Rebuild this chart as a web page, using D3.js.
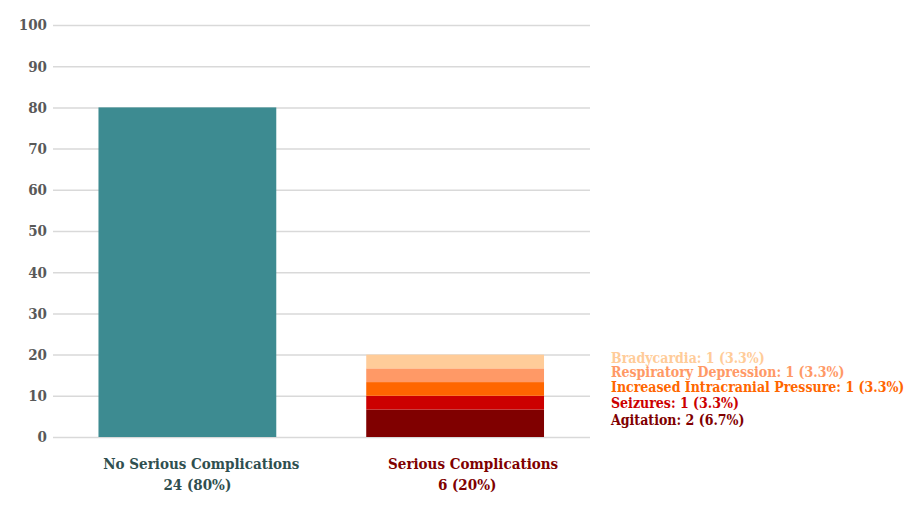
<!DOCTYPE html>
<html><head><meta charset="utf-8">
<script src="https://cdn.jsdelivr.net/npm/d3@7"></script>
<style>body{margin:0;background:#fff;} svg{display:block;}</style>
</head><body>
<svg id="chart" width="920" height="518"></svg>
<script>
const categories = ["No Serious Complications", "Serious Complications"];
const categorySubLabels = ["24 (80%)", "6 (20%)"];
const noComplicationValue = 80;
const complicationTypes = ["Agitation", "Seizures", "Increased Intracranial Pressure", "Respiratory Depression", "Bradycardia"];
const complicationCounts = [2, 1, 1, 1, 1];
const complicationPercents = [6.67, 3.33, 3.33, 3.33, 3.33];
const complicationPctLabels = ["6.7%", "3.3%", "3.3%", "3.3%", "3.3%"];
const yTicks = [0, 10, 20, 30, 40, 50, 60, 70, 80, 90, 100];

const complicationColors = ["#800000", "#CC0000", "#FF6600", "#FF9966", "#FFCC99"];
const font = "'DejaVu Serif Condensed', 'DejaVu Serif', serif";

const svg = d3.select("#chart");
const margin = {left: 53, right: 330, top: 25, bottom: 81};
const W = 920, H = 518;
const x = d3.scaleBand().domain(categories).range([margin.left + 0.5, W - margin.right - 1]).paddingInner(0.336).paddingOuter(0.168);
const y = d3.scaleLinear().domain([0, 100]).range([H - margin.bottom, margin.top]);

// grid
const yAxis = d3.axisLeft(y).tickValues(yTicks).tickSize(-(W - margin.right - margin.left)).tickPadding(8);
const ga = svg.append("g").attr("transform", `translate(${margin.left},0)`).call(yAxis);
ga.select(".domain").remove();
ga.selectAll(".tick line").attr("stroke", "#d9d9d9").attr("stroke-width", 1.5);
ga.selectAll(".tick text").attr("fill", "#595959").attr("font-family", font).attr("font-weight", "bold").attr("font-size", 15).attr("x", -6);

// first bar
svg.append("rect")
  .attr("x", x(categories[0])).attr("width", x.bandwidth())
  .attr("y", y(noComplicationValue)).attr("height", y(0) - y(noComplicationValue))
  .attr("fill", "#3D8B91");

// stacked bar
const stackData = [Object.fromEntries(complicationTypes.map((k, i) => [k, complicationPercents[i]]))];
const series = d3.stack().keys(complicationTypes)(stackData);
svg.append("g").selectAll("rect").data(series).join("rect")
  .attr("x", x(categories[1])).attr("width", x.bandwidth())
  .attr("y", d => y(d[0][1])).attr("height", d => y(d[0][0]) - y(d[0][1]))
  .attr("fill", (d, i) => complicationColors[i]);

// labels for segments
const labelYOffsets = [-2, 1, -1, -2, -3];
svg.append("g").selectAll("text").data(series).join("text")
  .attr("x", 611)
  .attr("y", (d, i) => y((d[0][0] + d[0][1]) / 2) + labelYOffsets[i])
  .attr("dominant-baseline", "middle")
  .attr("font-family", font).attr("font-weight", "bold").attr("font-size", 14)
  .attr("fill", (d, i) => complicationColors[i])
  .text((d, i) => `${complicationTypes[i]}: ${complicationCounts[i]} (${complicationPctLabels[i]})`);

// category labels
const catColors = ["#2F4F4F", "#800000"];
const line1Shift = [14, 18];
const line2Shift = [10, 12];
categories.forEach((c, i) => {
  const cx = x(c) + x.bandwidth() / 2;
  const t = svg.append("text").attr("text-anchor", "middle")
    .attr("font-family", font).attr("font-weight", "bold").attr("font-size", 15).attr("fill", catColors[i]);
  t.append("tspan").attr("x", cx + line1Shift[i]).attr("y", 469).text(c);
  t.append("tspan").attr("x", cx + line2Shift[i]).attr("y", 490).text(categorySubLabels[i]);
});
</script>
</body></html>
